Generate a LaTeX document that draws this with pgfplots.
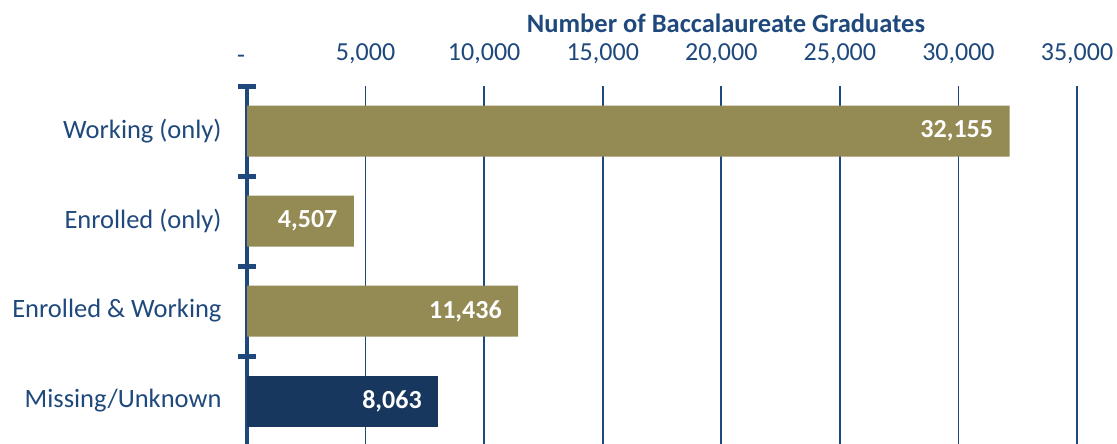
\documentclass[border=0pt]{standalone}
\usepackage{fontspec}
\setmainfont{Carlito}
\usepackage{pgfplots}
\pgfplotsset{compat=1.18}
\definecolor{gold}{HTML}{948A54}
\definecolor{navy}{HTML}{17375E}
\definecolor{txt}{HTML}{1F497D}
\begin{document}
\begin{tikzpicture}[x=1bp,y=1bp]
\useasboundingbox (0,0) rectangle (1117,-444);
\begin{axis}[
  at={(247bp,-446bp)}, anchor=south west,
  scale only axis, width=830bp, height=360bp,
  xmin=0, xmax=35000, ymin=-0.5, ymax=3.5, y dir=reverse,
  axis x line*=top, axis y line*=left,
  x axis line style={draw=none},
  y axis line style={draw=txt, line width=4bp},
  xtick={0,5000,10000,15000,20000,25000,30000,35000},
  xticklabels={{\hspace*{-12bp}-},{5,000},{10,000},{15,000},{20,000},{25,000},{30,000},{35,000}},
  xticklabel style={font=\fontsize{26bp}{30bp}\selectfont, text=txt, yshift=19bp},
  ytick={0,1,2,3},
  yticklabels={Working (only),Enrolled (only),Enrolled \& Working,Missing/Unknown},
  yticklabel style={font=\fontsize{26.5bp}{30bp}\selectfont, text=txt, anchor=east, xshift=-22bp},
  minor ytick={-0.5,0.5,1.5,2.5},
  major tick length=0pt,
  minor tick length=18bp,
  tick align=center,
  minor tick style={draw=txt, line width=5bp},
  major tick style={draw=none},
  xmajorgrids,
  major x grid style={draw=txt, line width=1.6bp},
  scaled x ticks=false,
  clip=false,
]
\addplot[xbar, bar width=51bp, bar shift=0pt, fill=gold, draw=none,
  nodes near coords, point meta=explicit symbolic,
  nodes near coords style={anchor=east, xshift=-13bp, text=white, font=\bfseries\fontsize{26bp}{30bp}\selectfont}]
  coordinates {(32155,0)[32{,}155] (4507,1)[4{,}507] (11436,2)[11{,}436]};
\addplot[xbar, bar width=51bp, bar shift=0pt, fill=navy, draw=none,
  nodes near coords, point meta=explicit symbolic,
  nodes near coords style={anchor=east, xshift=-13bp, text=white, font=\bfseries\fontsize{26bp}{30bp}\selectfont}]
  coordinates {(8063,3)[8{,}063]};
\end{axis}
\node[font=\bfseries\fontsize{26.5bp}{30bp}\selectfont, text=txt] at (726,-23) {Number of Baccalaureate Graduates};
\end{tikzpicture}
\end{document}
